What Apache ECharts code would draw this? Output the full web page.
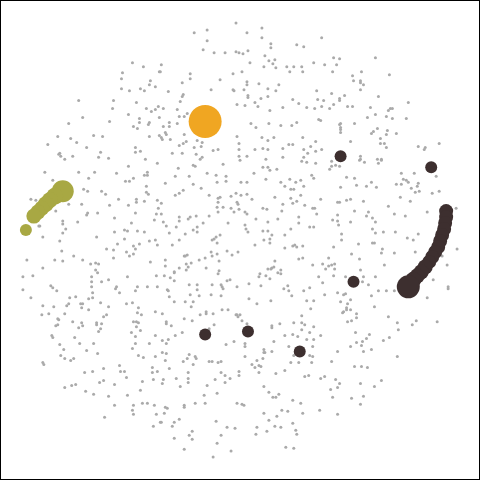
<!DOCTYPE html>
<html><head><meta charset="utf-8">
<script src="https://cdn.jsdelivr.net/npm/echarts@6/dist/echarts.min.js"></script>
<style>html,body{margin:0;padding:0;background:#fff}#c{width:480px;height:480px;box-sizing:border-box;border:1px solid #000}</style>
</head><body><div id="c"></div>
<script>
// Small background nodes [x, y]
const grayPoints = [
[132,62],[143,66],[159,71],[122,72],[121,78],[150,80],[149,84],[155,86],[121,88],[129,90],[140,88],[144,90],[78,100],[113,100],[136,102],[112,108],[146,108],[151,111],[155,109],[158,106],[128,114],[159,117],[82,117],[139,118],[68,123],[109,121],[139,122],[149,122],[148,124],[133,126],[137,128],[57,136],[70,138],[93,135],[102,136],[149,136],[159,135],[76,142],[47,144],[86,147],[135,147],[135,152],[140,151],[58,154],[59,153],[60,156],[72,156],[100,152],[98,157],[108,158],[64,159],[145,159],
[236,22],[194,32],[207,29],[247,32],[262,27],[207,40],[262,37],[271,43],[271,47],[297,44],[304,46],[203,49],[214,52],[225,52],[236,51],[239,52],[243,53],[248,50],[265,55],[269,60],[275,59],[273,63],[276,67],[250,62],[264,66],[287,66],[294,66],[302,66],[290,71],[303,71],[314,62],[161,64],[160,71],[190,73],[190,78],[233,73],[242,71],[220,79],[247,81],[247,84],[259,83],[279,84],[182,82],[168,91],[211,89],[233,89],[234,90],[244,89],[248,95],[248,97],[268,88],[276,90],[268,96],[261,98],[255,102],[258,106],[183,94],[182,96],[180,101],[317,90],[318,99],[293,99],[299,103],[307,107],[315,108],[283,107],[270,110],[237,104],[245,105],[163,108],[177,109],[187,113],[184,116],[179,116],[169,122],[163,126],[169,126],[177,123],[165,132],[166,134],[161,137],[162,139],[170,139],[184,134],[251,123],[256,127],[269,123],[281,125],[292,125],[297,122],[319,119],[237,136],[239,143],[262,137],[268,140],[274,137],[303,137],[316,141],[311,146],[197,140],[202,142],[201,146],[179,145],[183,143],[186,141],[194,147],[172,153],[182,153],[196,154],[213,150],[218,149],[239,149],[239,156],[247,156],[255,149],[263,148],[268,149],[283,148],[289,144],[293,144],[304,149],[308,153],[316,151],[304,157],[283,157],[266,159],[202,157],[200,159],
[322,37],[334,57],[340,58],[376,57],[325,64],[337,64],[333,71],[362,71],[353,75],[390,74],[354,80],[361,80],[361,82],[364,84],[361,89],[332,93],[345,95],[340,98],[340,100],[324,100],[379,96],[409,102],[334,104],[322,106],[330,108],[348,106],[353,106],[371,107],[389,110],[391,108],[393,108],[376,114],[368,117],[387,116],[393,118],[407,118],[321,120],[355,123],[340,124],[341,123],[341,127],[341,129],[341,132],[378,128],[374,131],[372,133],[388,130],[387,134],[397,133],[381,138],[381,143],[385,143],[387,147],[351,141],[419,146],[425,149],[426,147],[440,143],[322,149],[361,156],[361,159],[378,159],[382,159],
[44,172],[52,180],[78,172],[94,172],[88,178],[116,173],[128,166],[144,175],[147,175],[147,172],[157,163],[125,181],[129,181],[133,178],[146,186],[146,192],[148,194],[83,189],[87,191],[101,191],[105,194],[118,199],[136,199],[136,202],[144,201],[157,200],[158,208],[30,199],[35,200],[68,204],[81,204],[109,205],[128,205],[55,211],[87,213],[86,215],[97,213],[135,213],[156,214],[154,220],[114,218],[62,221],[62,224],[77,222],[131,223],[38,226],[39,226],[65,229],[62,233],[124,230],[127,231],[114,232],[137,231],[144,232],[42,237],[96,237],[124,239],[59,241],[117,244],[149,241],[155,240],[157,245],[139,244],[133,246],[135,249],[106,249],[113,250],[126,252],[129,256],[133,254],[61,251],[73,256],[113,258],[26,260],[54,260],[62,261],[82,260],[90,264],[95,263],[98,264],[150,262],[42,268],[95,270],[97,273],[22,277],[32,276],[91,277],[127,277],[156,276],[101,282],[91,282],[108,280],[50,286],[52,288],[56,291],[91,287],[92,293],[116,287],[115,289],[137,287],[147,287],[157,287],[22,290],[119,293],[135,291],[30,298],[69,298],[75,297],[88,299],[92,298],[80,304],[82,304],[100,303],[42,306],[53,307],[66,306],[68,304],[81,308],[88,310],[108,307],[126,304],[132,303],[138,308],[137,313],[155,312],[41,315],[48,314],[64,314],[57,319],[103,317],[106,315],[141,315],
[178,168],[193,165],[195,166],[223,164],[240,160],[302,161],[307,162],[316,163],[263,167],[268,167],[270,170],[277,169],[175,176],[189,176],[207,173],[216,175],[226,176],[254,173],[266,179],[165,183],[193,184],[217,182],[226,181],[241,182],[247,182],[281,182],[290,179],[296,182],[301,180],[312,175],[314,178],[285,186],[291,189],[294,189],[304,186],[201,188],[183,190],[179,193],[175,195],[209,195],[220,197],[218,198],[231,196],[236,193],[241,195],[247,194],[252,199],[275,197],[301,195],[291,198],[297,201],[293,203],[218,202],[237,202],[238,204],[161,203],[283,204],[305,205],[217,207],[223,207],[231,208],[239,209],[263,208],[267,209],[282,211],[313,208],[315,208],[161,214],[218,212],[234,212],[245,212],[247,214],[317,214],[196,216],[190,217],[188,219],[179,217],[179,221],[209,216],[256,219],[278,219],[299,217],[268,222],[163,222],[166,226],[176,227],[203,223],[228,223],[245,225],[246,229],[248,232],[299,223],[310,227],[314,227],[197,227],[193,230],[197,232],[185,234],[169,233],[263,231],[268,231],[272,235],[291,229],[285,235],[220,235],[216,237],[212,240],[214,239],[179,240],[264,240],[270,239],[270,243],[217,243],[172,245],[255,245],[285,248],[293,246],[295,245],[297,247],[303,246],[227,251],[238,252],[232,255],[211,252],[212,256],[217,254],[184,256],[187,255],[185,256],[165,260],[205,258],[199,260],[219,261],[191,263],[186,264],[188,267],[179,268],[165,266],[206,268],[299,259],[303,258],[275,261],[274,267],[272,268],[271,269],[268,269],[281,270],[281,274],[278,273],[313,265],[174,272],[174,273],[186,270],[219,271],[218,274],[260,274],[259,277],[266,276],[270,279],[164,276],[170,278],[174,281],[227,281],[230,280],[319,277],[189,285],[197,285],[212,285],[221,285],[222,287],[223,289],[237,287],[249,284],[261,286],[284,289],[288,286],[289,291],[310,288],[167,290],[168,291],[197,290],[190,295],[199,296],[211,295],[221,296],[169,297],[292,296],[304,291],[307,301],[314,301],[249,299],[271,301],[174,302],[185,302],[193,302],[257,304],[191,307],[311,309],[222,310],[228,310],[206,312],[206,314],[200,315],[213,314],[162,314],[236,315],[237,315],[240,315],[238,317],[302,316],[184,319],
[332,161],[332,166],[330,169],[336,165],[340,166],[360,160],[365,162],[379,163],[382,160],[347,177],[355,178],[341,187],[357,185],[367,186],[372,182],[377,187],[402,173],[404,179],[407,180],[409,182],[415,173],[419,183],[418,186],[412,188],[416,192],[420,191],[397,184],[402,184],[437,176],[433,193],[440,191],[401,197],[411,201],[321,199],[338,202],[340,202],[347,200],[351,199],[364,201],[389,206],[355,211],[369,212],[367,216],[338,215],[338,221],[339,225],[333,220],[351,222],[373,218],[376,222],[395,214],[406,216],[428,212],[457,208],[373,229],[376,233],[384,232],[396,232],[419,234],[342,234],[342,240],[359,244],[373,243],[375,243],[408,238],[414,240],[334,247],[383,249],[382,253],[395,253],[416,252],[458,249],[352,254],[329,258],[360,259],[323,264],[329,266],[332,265],[335,264],[326,269],[335,269],[361,270],[385,265],[448,265],[443,256],[437,257],[334,276],[346,277],[364,277],[376,277],[323,283],[363,282],[369,285],[434,280],[449,287],[449,289],[379,291],[387,291],[395,291],[338,293],[325,295],[344,295],[346,294],[372,296],[428,298],[351,300],[341,302],[348,304],[375,307],[347,308],[347,310],[351,310],[343,313],[344,312],[357,314],[357,318],[389,317],
[58,320],[55,326],[57,325],[72,322],[81,323],[82,326],[78,328],[96,323],[96,325],[101,324],[100,329],[98,332],[133,322],[136,322],[138,323],[136,327],[140,331],[131,333],[135,337],[155,336],[51,336],[52,338],[74,338],[59,345],[79,344],[93,344],[135,344],[149,344],[63,350],[86,351],[132,349],[60,356],[64,359],[70,361],[73,359],[97,354],[138,356],[143,358],[155,357],[42,363],[43,365],[119,366],[103,369],[84,373],[92,372],[120,372],[124,372],[152,368],[152,373],[157,372],[126,378],[153,380],[103,381],[99,383],[114,385],[142,382],[64,388],[71,386],[75,385],[85,392],[93,395],[140,391],[108,397],[127,396],[114,406],[133,406],[142,404],[147,404],[154,406],[132,411],[133,415],[156,415],[104,418],[153,427],[160,423],
[166,322],[166,324],[171,326],[192,321],[214,325],[209,329],[242,321],[247,324],[272,326],[280,324],[294,323],[302,323],[305,325],[314,327],[302,330],[310,333],[272,328],[182,333],[175,336],[162,341],[168,340],[166,344],[285,336],[293,335],[298,337],[307,340],[314,340],[274,342],[226,345],[234,342],[245,344],[245,347],[289,347],[313,347],[264,350],[265,353],[264,353],[272,352],[162,353],[166,354],[189,355],[195,357],[196,359],[187,359],[183,362],[209,362],[212,362],[218,363],[221,362],[245,357],[257,361],[263,359],[294,356],[310,356],[313,357],[291,363],[299,363],[312,363],[165,361],[193,365],[252,365],[255,368],[259,366],[261,367],[169,369],[188,373],[221,373],[225,376],[239,372],[239,376],[259,373],[276,374],[285,371],[230,379],[305,377],[309,376],[163,380],[176,379],[188,379],[215,380],[188,383],[225,383],[162,384],[180,387],[207,386],[264,387],[269,393],[273,398],[276,398],[279,395],[204,396],[217,394],[293,401],[195,404],[205,404],[237,404],[242,405],[244,406],[184,406],[184,408],[165,408],[167,409],[164,414],[264,414],[282,411],[288,412],[301,404],[303,414],[277,417],[179,420],[174,423],[161,423],[269,421],[216,422],[172,427],[227,428],[235,429],[257,428],[275,427],[281,428],[293,424],[296,431],[297,435],[192,432],[189,436],[192,440],[221,436],[256,435],[267,432],[174,439],[217,444],[286,448],[294,449],[184,450],[231,452],[213,458],
[348,322],[352,321],[398,323],[417,321],[413,325],[438,322],[399,330],[321,336],[356,333],[370,335],[367,339],[363,342],[357,343],[362,346],[351,347],[390,338],[384,341],[364,352],[372,350],[338,352],[398,357],[332,362],[355,367],[362,367],[368,368],[321,379],[325,377],[336,380],[340,384],[338,388],[331,390],[361,384],[382,381],[375,387],[333,398],[352,399],[364,397],[361,405],[320,411],[338,415]
];
// Highlighted nodes [x, y, size]
const orangePoints = [[205,121,33]];
const olivePoints = [[62,191,22],[54,196,17],[49,200,16],[45,204,16],[41,208,15],[37,212,15],[33,216,15],[25,230,12]];
const darkPoints = [[447,211,14],[447,217,14],[446,223,14],[445,229,14],[443,235,14],[441,241,14],[439,247,14],[436,252,14],[433,257,14],[430,262,14],[426,267,15],[422,272,15],[418,276,15],[414,280,16],[409,287,23],[432,167,12],[341,156,12],[354,282,12],[205,335,12],[248,332,12],[300,352,12]];

const chart = echarts.init(document.getElementById('c'));
const sz = v => v[2];
chart.setOption({
  animation: false,
  backgroundColor: '#fff',
  grid: {left: 0, right: 0, top: 0, bottom: 0},
  xAxis: {type: 'value', min: 0, max: 480, show: false},
  yAxis: {type: 'value', min: 0, max: 480, inverse: true, show: false},
  series: [
    {type: 'scatter', data: grayPoints, symbolSize: 3, itemStyle: {color: '#aaaaaa', opacity: 1}, silent: true},
    {type: 'scatter', data: olivePoints, symbolSize: sz, itemStyle: {color: '#a8a843', opacity: 1}},
    {type: 'scatter', data: darkPoints, symbolSize: sz, itemStyle: {color: '#3d2f2f', opacity: 1}},
    {type: 'scatter', data: orangePoints, symbolSize: sz, itemStyle: {color: '#f0a622', opacity: 1}}
  ]
});
</script></body></html>
